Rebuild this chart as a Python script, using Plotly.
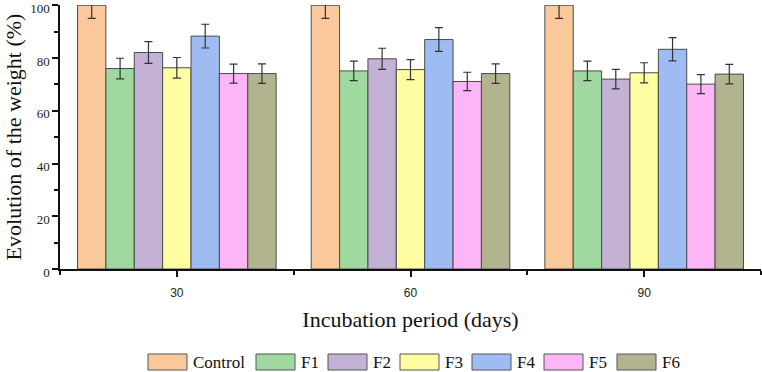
import plotly.graph_objects as go

days = [30, 60, 90]
series = ["Control", "F1", "F2", "F3", "F4", "F5", "F6"]
values = {
    "Control": [100, 100, 100],
    "F1": [76.0, 75.1, 75.1],
    "F2": [82.1, 79.7, 72.0],
    "F3": [76.3, 75.6, 74.4],
    "F4": [88.3, 87.0, 83.3],
    "F5": [74.1, 71.1, 70.1],
    "F6": [74.1, 74.1, 73.9],
}
errors = {
    "Control": [5.0, 5.0, 5.0],
    "F1": [3.9, 3.7, 3.7],
    "F2": [4.1, 4.0, 3.7],
    "F3": [3.9, 3.8, 3.8],
    "F4": [4.5, 4.5, 4.4],
    "F5": [3.6, 3.5, 3.6],
    "F6": [3.7, 3.7, 3.7],
}
y_ticks = [0, 20, 40, 60, 80, 100]
colors = {
    "Control": "#F9C89B",
    "F1": "#9FD99F",
    "F2": "#C3B1D6",
    "F3": "#FFFDA1",
    "F4": "#9EBCF2",
    "F5": "#FCB5F6",
    "F6": "#B2B48F",
}

SERIF = "Liberation Serif"
SANS = "Liberation Sans"

W, H = 762, 372
ML, MR, MT, MB = 60, 1, 5, 103
PW, PH = W - ML - MR, H - MT - MB

fig = go.Figure()
for s in series:
    fig.add_trace(go.Bar(
        x=days, y=values[s], name=s, showlegend=False,
        marker=dict(color=colors[s], line=dict(color="#4a4a4a", width=1)),
        error_y=dict(type="data", array=errors[s], color="#333333", thickness=1.2, width=4),
    ))

# custom legend (wide swatches like the original)
def px2x(px):
    return (px - ML) / PW

def py2y(py):
    return (H - MB - py) / PH

leg_x_px = [148, 256, 328, 400, 472, 544, 617]
sw_w, sw_top, sw_bot = 39, 354, 370
shapes, annots = [], []
for s, x0 in zip(series, leg_x_px):
    shapes.append(dict(type="rect", xref="paper", yref="paper",
                       x0=px2x(x0), x1=px2x(x0 + sw_w), y0=py2y(sw_bot), y1=py2y(sw_top),
                       fillcolor=colors[s], line=dict(color="#555555", width=1)))
    annots.append(dict(xref="paper", yref="paper", x=px2x(x0 + sw_w + 4), y=py2y((sw_top + sw_bot) / 2),
                       text=s, showarrow=False, xanchor="left", yanchor="middle",
                       font=dict(size=17, family=SERIF, color="#111111")))

fig.update_layout(
    barmode="group", bargap=0.15, bargroupgap=0,
    width=W, height=H,
    margin=dict(l=ML, r=MR, t=MT, b=MB),
    plot_bgcolor="white", paper_bgcolor="white",
    font=dict(family=SERIF, color="#222222"),
    showlegend=False,
    shapes=shapes, annotations=annots,
)
fig.update_xaxes(
    range=[15, 105], tickmode="array", tickvals=days, ticktext=[str(d) for d in days],
    ticks="outside", ticklen=6, tickwidth=1.5, tickcolor="#111",
    showline=True, linecolor="#111", linewidth=1.5, showgrid=False, zeroline=False,
    tickfont=dict(size=12, family=SANS, color="#222"), ticklabelstandoff=6,
    minor=dict(tickmode="array", tickvals=[15, 45, 75, 105], ticks="outside", ticklen=4, tickwidth=1.5, tickcolor="#111"),
    title=dict(text="Incubation period (days)", font=dict(size=22, family=SERIF, color="#111"), standoff=12),
    automargin=False,
)
fig.update_yaxes(
    range=[0, 100.1], tickmode="array", tickvals=y_ticks, ticktext=[str(v) for v in y_ticks],
    ticks="outside", ticklen=6, tickwidth=1.5, tickcolor="#111",
    showline=True, linecolor="#111", linewidth=1.5, showgrid=False, zeroline=False,
    tickfont=dict(size=13, family=SERIF, color="#222"), ticklabeloverflow="allow", ticklabelshift=3,
    minor=dict(tickmode="array", tickvals=[10, 30, 50, 70, 90], ticks="outside", ticklen=4, tickwidth=1.5, tickcolor="#111"),
    title=dict(text="Evolution of the weight (%)", font=dict(size=22, family=SERIF, color="#111"), standoff=2),
    automargin=False,
)

fig.write_html("out.html", config={"displayModeBar": False},
               post_script="document.body.style.margin='0';document.body.style.overflow='hidden';")
